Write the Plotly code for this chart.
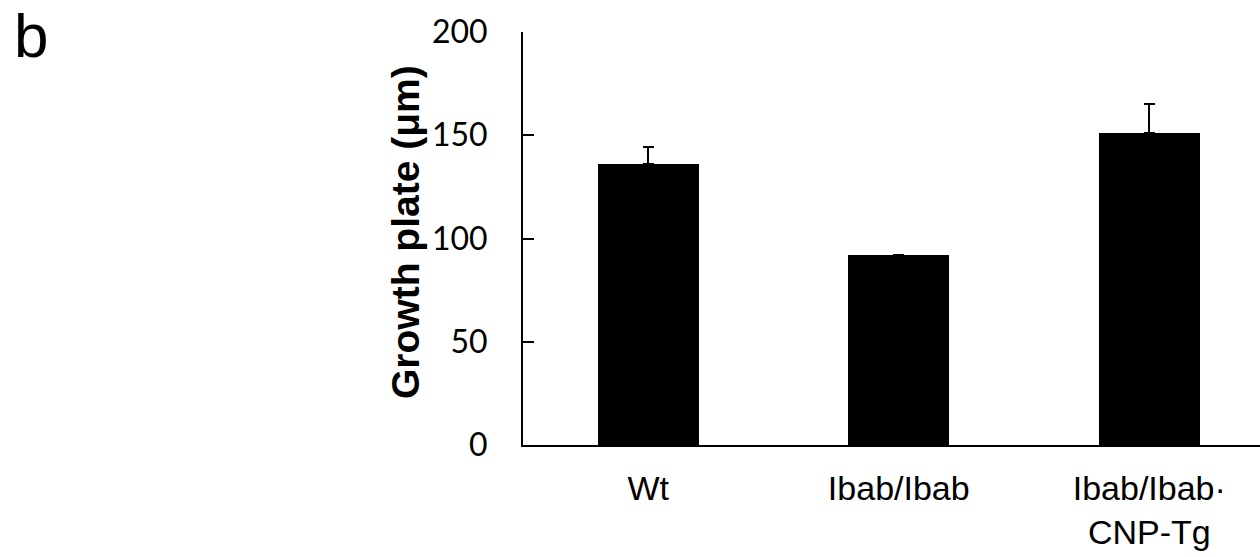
import plotly.graph_objects as go

categories = ["Wt", "Ibab/Ibab", "Ibab/Ibab·<br>CNP-Tg"]
values = [136.3, 92.2, 151.3]
errors_up = [7.9, None, 13.8]
y_ticks = [0, 50, 100, 150, 200]

fig = go.Figure()
fig.add_trace(go.Bar(
    x=[0, 1, 2], y=values, width=0.403,
    marker=dict(color="black", line=dict(width=0)),
    error_y=dict(type="data", array=errors_up, arrayminus=[0, 0, 0], symmetric=False,
                 color="black", thickness=2, width=5.5),
))

W, H = 1260, 557
L, T, B = 523, 32, 112
fig.update_layout(
    width=W, height=H,
    margin=dict(l=L, r=0, t=T, b=B),
    paper_bgcolor="white", plot_bgcolor="white",
    showlegend=False,
    bargap=0,
)
fig.update_xaxes(
    range=[-0.5, 2.442], tickmode="array", tickvals=[0, 1, 2], ticktext=categories,
    showline=True, linecolor="black", linewidth=2, ticks="", showgrid=False, zeroline=False,
    tickfont=dict(family="Liberation Sans, Arial", size=34, color="black"),
    ticklabelstandoff=12, automargin=False,
)
fig.update_yaxes(
    range=[0, 200], tickmode="array", tickvals=y_ticks,
    showline=True, linecolor="black", linewidth=2, ticks="inside", ticklen=11, tickwidth=2,
    tickcolor="black", showgrid=False, zeroline=False,
    tickfont=dict(family="Lato, Open Sans", size=32, color="black"),
    ticklabelstandoff=27, automargin=False,
)
plot_w = W - L
plot_h = H - T - B
fig.add_annotation(
    text="<b>Growth plate (μm)</b>", textangle=-90, showarrow=False,
    xref="paper", yref="paper", x=(406 - L) / plot_w, y=(445 - 232) / plot_h,
    xanchor="center", yanchor="middle",
    font=dict(family="Liberation Sans, Arial", size=39, color="black"),
)
fig.add_annotation(
    text="b", showarrow=False,
    xref="paper", yref="paper", x=(13 - L) / plot_w, y=(445 - 0) / plot_h,
    xanchor="left", yanchor="top", borderpad=0,
    font=dict(family="Liberation Sans, Arial", size=62, color="black"),
)
fig.write_html("out.html")
